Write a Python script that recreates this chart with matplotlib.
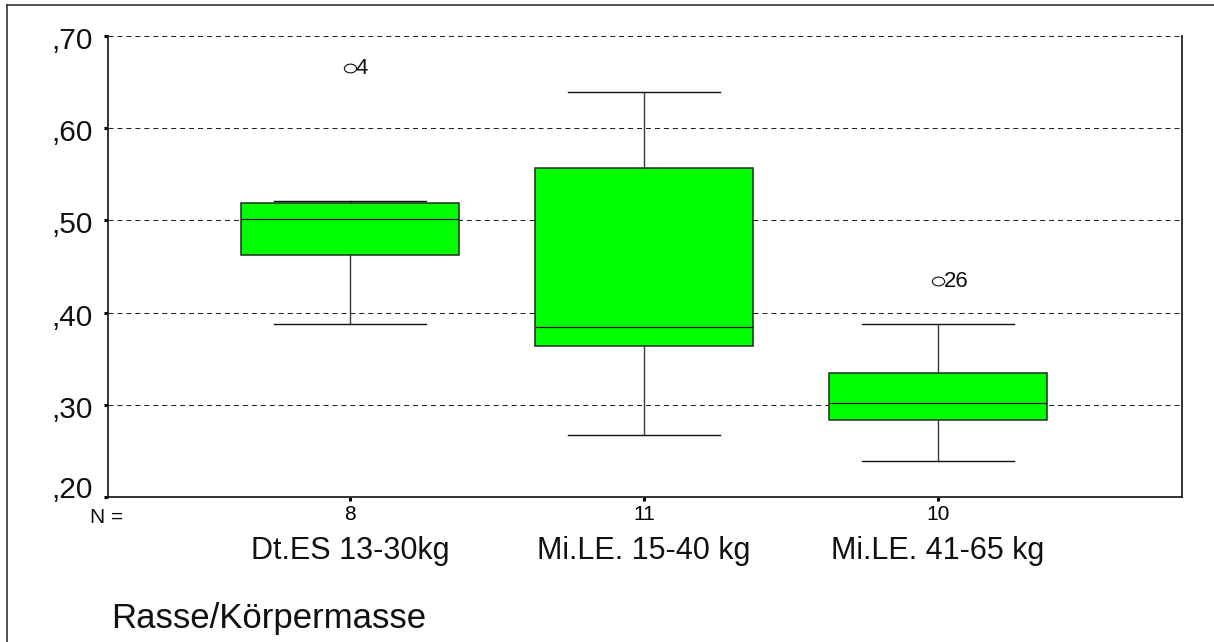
import matplotlib
matplotlib.use("Agg")
import matplotlib.pyplot as plt
from matplotlib.lines import Line2D
from matplotlib.markers import MarkerStyle
from matplotlib.transforms import Affine2D, ScaledTranslation, blended_transform_factory

# ---- data ----
categories = ["Dt.ES 13-30kg", "Mi.LE. 15-40 kg", "Mi.LE. 41-65 kg"]
n_values = [8, 11, 10]
whisker_low = [0.388, 0.267, 0.239]
quart1 = [0.463, 0.364, 0.284]
medians = [0.501, 0.384, 0.302]
quart3 = [0.5185, 0.5565, 0.335]
whisker_high = [0.521, 0.639, 0.388]
outlier_values = [[0.665], [], [0.434]]
outlier_ids = [["4"], [], ["26"]]
y_ticks = [0.20, 0.30, 0.40, 0.50, 0.60, 0.70]
y_tick_labels = [",20", ",30", ",40", ",50", ",60", ",70"]
x_title = "Rasse/Körpermasse"

plt.rcParams['font.family'] = ['Liberation Sans', 'DejaVu Sans']

W, H = 1214, 642
fig = plt.figure(figsize=(W / 100, H / 100), dpi=100)
ax = fig.add_axes([108 / W, 1 - 497 / H, (1182 - 108) / W, (497 - 36) / H])

positions = list(range(1, len(categories) + 1))
stats = []
for i in range(len(categories)):
    stats.append(dict(label=categories[i], whislo=whisker_low[i], q1=quart1[i],
                      med=medians[i], q3=quart3[i], whishi=whisker_high[i],
                      fliers=[]))

ax.bxp(stats, positions=positions, widths=0.74, patch_artist=True,
       showfliers=False, capwidths=0.52,
       boxprops=dict(facecolor='#00ff00', edgecolor='#1c2e1c', linewidth=1.1),
       medianprops=dict(color='#111111', linewidth=0.9),
       whiskerprops=dict(color='#3a3a3a', linewidth=1.0),
       capprops=dict(color='#111111', linewidth=1.0),
       zorder=3)

# outliers
ell = MarkerStyle('o', transform=Affine2D().scale(1.4, 1.0))
for pos, vals, ids in zip(positions, outlier_values, outlier_ids):
    for v, lab in zip(vals, ids):
        ax.plot([pos], [v], marker=ell, markersize=6.3, markerfacecolor='none',
                markeredgecolor='#111111', markeredgewidth=0.8, linestyle='none',
                zorder=4)
        ax.annotate(lab, (pos, v), xytext=(4.3, 0), textcoords='offset points',
                    ha='left', va='center', fontsize=16, color='#111111')

ax.set_ylim(0.20, 0.70)
ax.set_xlim(0.177, 3.830)

# dashed gridlines
for yt in y_ticks[1:]:
    ax.axhline(yt, color='#222222', linewidth=0.75, linestyle=(0, (4.8, 3.8)),
               zorder=1)

# y ticks: marks from the axis, labels drawn SPSS-style (slightly below the tick,
# lowest one lifted above the axis line)
ax.set_yticks(y_ticks)
ax.set_yticklabels([])
ytrans = blended_transform_factory(ax.transAxes, ax.transData)
for yt, lab in zip(y_ticks, y_tick_labels):
    dy = -1 / 100 if yt == y_ticks[0] else -13 / 100
    t = ytrans + ScaledTranslation(-15 / 100, dy, fig.dpi_scale_trans)
    ax.text(0, yt, lab, transform=t, ha='right', va='baseline',
            fontsize=21.5, color='#111111')

ax.set_xticks(positions)
ax.set_xticklabels([str(v) for v in n_values], fontsize=15)
ax.tick_params(axis='y', direction='out', length=3, width=2.2,
               color='#000000')
ax.tick_params(axis='x', direction='out', length=3, width=2.2, pad=3,
               color='#000000')

for side in ['left', 'bottom', 'right']:
    ax.spines[side].set_color('#222222')
    ax.spines[side].set_linewidth(1.3)
ax.spines['top'].set_visible(False)

# category names
trans = blended_transform_factory(ax.transData, ax.transAxes)
for pos, name in zip(positions, categories):
    ax.text(pos, -(559 - 497) / (497 - 36), name, transform=trans,
            ha='center', va='baseline', fontsize=22, color='#111111')

fig.text(90 / W, 1 - 523 / H, "N =", ha='left', va='baseline',
         fontsize=15, color='#111111')
fig.text(111 / W, 1 - 628 / H, x_title, ha='left', va='baseline',
         fontsize=25, color='#111111')

# outer frame
fig.add_artist(Line2D([7 / W, 1.0], [1 - 5 / H, 1 - 5 / H], color='#333333',
                      linewidth=1.2, transform=fig.transFigure))
fig.add_artist(Line2D([7 / W, 7 / W], [1 - 5 / H, 0.0], color='#333333',
                      linewidth=1.2, transform=fig.transFigure))

fig.savefig("out.png", dpi=100)
